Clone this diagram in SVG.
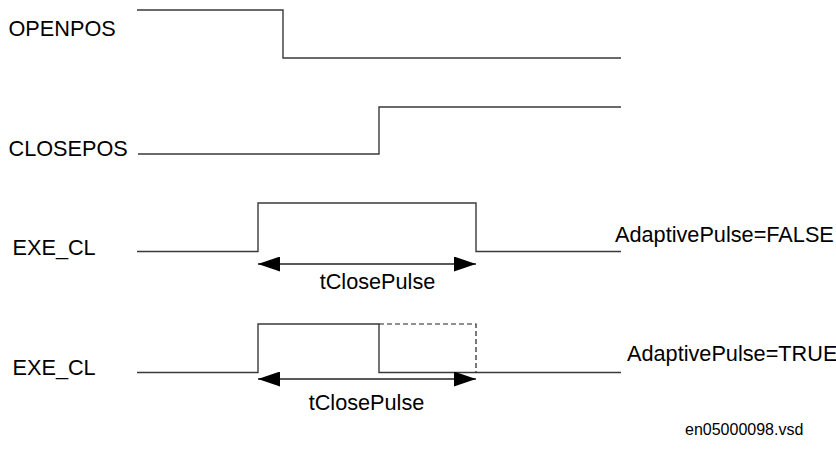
<svg xmlns="http://www.w3.org/2000/svg" width="836" height="450" viewBox="0 0 836 450">
<style>
text{font-family:"Liberation Sans",Arial,sans-serif;font-size:21.7px;fill:#000}
.sig{fill:none;stroke:#3a3a3a;stroke-width:1.4}
.dash{fill:none;stroke:#222;stroke-width:1.2;stroke-dasharray:5 3}
.dim{stroke:#222;stroke-width:1.4}
.small{font-size:16px}
</style>
<defs>
<marker id="ah" viewBox="0 0 22 15" refX="22" refY="7.5" markerWidth="22" markerHeight="15" markerUnits="userSpaceOnUse" orient="auto-start-reverse">
<path d="M0,0 L22,7.5 L0,15 Z" fill="#000"/>
</marker>
</defs>
<g id="openpos">
<text x="8.5" y="36">OPENPOS</text>
<path class="sig" d="M137,10 H283 V58 H621"/>
</g>
<g id="closepos">
<text x="8.5" y="156">CLOSEPOS</text>
<path class="sig" d="M138,154 H379 V107 H621"/>
</g>
<g id="exe_cl_false">
<text x="12.5" y="255">EXE_CL</text>
<path class="sig" d="M137,251.5 H258 V203 H476 V251.5 H621"/>
<text x="615" y="241.5">AdaptivePulse=FALSE</text>
</g>
<g id="exe_cl_true">
<text x="12.5" y="375">EXE_CL</text>
<path class="sig" d="M137,372.5 H258 V324 H379 V372.5 H621"/>
<path class="dash" d="M379,324 H476 V372.5"/>
<text x="627" y="361">AdaptivePulse=TRUE</text>
</g>
<g id="connectors">
<line class="dim" x1="258" y1="264" x2="476" y2="264" marker-start="url(#ah)" marker-end="url(#ah)"/>
<line class="dim" x1="258" y1="379" x2="476" y2="379" marker-start="url(#ah)" marker-end="url(#ah)"/>
</g>
<g id="labels">
<text x="377.5" y="289" text-anchor="middle">tClosePulse</text>
<text x="366.5" y="410" text-anchor="middle">tClosePulse</text>
<text class="small" x="685" y="435">en05000098.vsd</text>
</g>
</svg>
